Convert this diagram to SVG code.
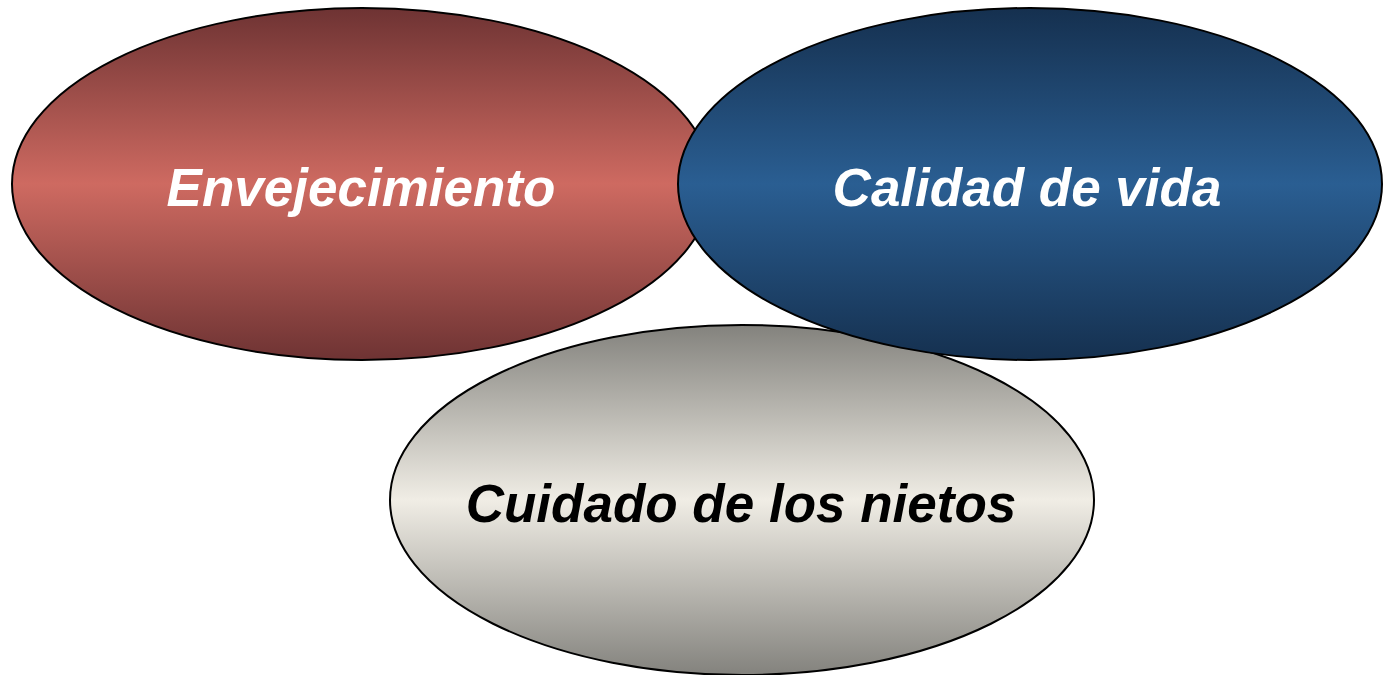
<svg xmlns="http://www.w3.org/2000/svg" width="1383" height="675" viewBox="0 0 1383 675">
<defs>
<linearGradient id="gRed" x1="0" y1="0" x2="0" y2="1">
<stop offset="0" stop-color="#6E3333"/>
<stop offset="0.5" stop-color="#CE6A61"/>
<stop offset="1" stop-color="#6E3333"/>
</linearGradient>
<linearGradient id="gBlue" x1="0" y1="0" x2="0" y2="1">
<stop offset="0" stop-color="#15304F"/>
<stop offset="0.5" stop-color="#2A5E92"/>
<stop offset="1" stop-color="#15304F"/>
</linearGradient>
<linearGradient id="gGray" x1="0" y1="0" x2="0" y2="1">
<stop offset="0" stop-color="#83827D"/>
<stop offset="0.5" stop-color="#F0EDE5"/>
<stop offset="1" stop-color="#83827D"/>
</linearGradient>
</defs>
<style>
.node ellipse{stroke:#000;stroke-width:2}
.lbl{font-family:"Liberation Sans",Arial,sans-serif;font-weight:bold;font-style:italic;font-size:53px;text-anchor:middle}
</style>
<rect width="1383" height="675" fill="#fff"/>
<g id="connectors"></g>
<g id="node-envejecimiento" class="node">
<ellipse cx="362" cy="184" rx="350" ry="176" fill="url(#gRed)"/>
<text class="lbl" x="361" y="206" fill="#fff">Envejecimiento</text>
</g>
<g id="node-cuidado" class="node">
<ellipse cx="742" cy="500" rx="352" ry="175" fill="url(#gGray)"/>
<text class="lbl" x="741" y="522" fill="#000">Cuidado de los nietos</text>
</g>
<g id="node-calidad" class="node">
<ellipse cx="1030" cy="184" rx="352" ry="176" fill="url(#gBlue)"/>
<text class="lbl" x="1027" y="206" fill="#fff">Calidad de vida</text>
</g>
</svg>
